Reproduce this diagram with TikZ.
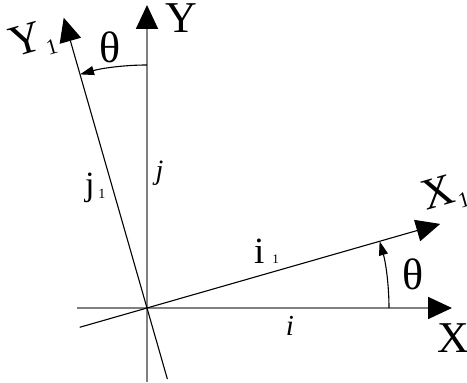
\documentclass[tikz,border=0pt]{standalone}
\usepackage{fontspec}
\setmainfont{Liberation Serif}
\usetikzlibrary{arrows.meta}
\newcommand{\fs}[1]{\fontsize{#1}{#1}\selectfont}
\begin{document}
\begin{tikzpicture}[x=1pt,y=1pt,
  axisline/.style={draw=black!50, line width=1.8pt, -{Triangle[length=24pt,width=22pt,color=black]}},
  frameline/.style={draw=black, line width=1.1pt, -{Triangle[length=24pt,width=22pt]}},
  anglearc/.style={draw=black, line width=1.1pt, -{Triangle[length=14pt,width=9pt]}},
  lbl/.style={inner sep=0pt, outer sep=0pt}]
\useasboundingbox (0,0) rectangle (467,383);
\coordinate (O) at (147,75);
% original axes
\coordinate (xs) at ([shift={(180:70)}]O);
\coordinate (xe) at ([shift={(0:305)}]O);
\coordinate (ys) at ([shift={(270:74)}]O);
\coordinate (ye) at ([shift={(90:303)}]O);
% rotated axes
\coordinate (x1s) at ([shift={(196:70)}]O);
\coordinate (x1e) at ([shift={(16:305)}]O);
\coordinate (y1s) at ([shift={(286:74)}]O);
\coordinate (y1e) at ([shift={(106:302)}]O);
% arc start points
\coordinate (a1) at ([shift={(90:243)}]O);
\coordinate (a2) at ([shift={(0:242)}]O);

\draw[axisline] (xs) -- (xe);
\draw[axisline] (ys) -- (ye);
\draw[frameline] (x1s) -- (x1e);
\draw[frameline] (y1s) -- (y1e);
\draw[anglearc] (a1) arc[start angle=90, end angle=106, radius=243];
\draw[anglearc] (a2) arc[start angle=0, end angle=16, radius=242];

% labels
\node[lbl, anchor=base] (lY) at (181,350) {\fs{44}Y};
\node[lbl, anchor=base] (lX) at (453,30) {\fs{44}X};
\node[lbl, rotate=16] (lY1) at (33,342) {\fs{44}Y\hspace{1pt}\raisebox{-8pt}{\fs{22}1}};
\node[lbl, rotate=16] (lX1) at (445,189) {\fs{44}X\hspace{1pt}\raisebox{-8pt}{\fs{22}1}};
\node[lbl] (th1) at (110,336) {\fs{44}θ};
\node[lbl] (th2) at (413.5,109) {\fs{44}θ};
\node[lbl, anchor=base] (lj) at (159.5,203) {\fs{28}\itshape j};
\node[lbl, anchor=base west] (lj1) at (85,187) {\fs{34}j\hspace{4pt}\raisebox{-3pt}{\fs{14}1}};
\node[lbl, anchor=base west] (li1) at (254,119) {\fs{37}i\hspace{8pt}{\fs{13}1}};
\node[lbl, anchor=base] (li) at (290,47) {\fs{29}\itshape i};
\end{tikzpicture}
\end{document}
